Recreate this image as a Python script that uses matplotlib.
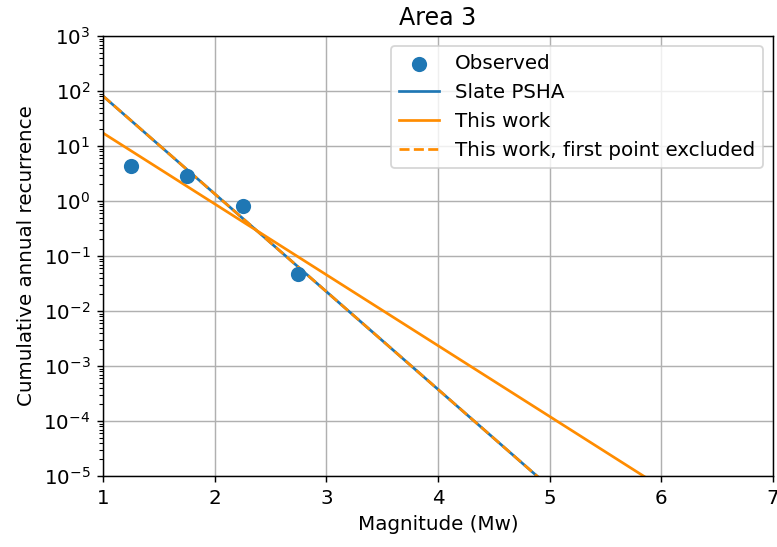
import matplotlib
matplotlib.use("Agg")
import matplotlib.pyplot as plt
import numpy as np

# observed cumulative annual rates
obs_mag = [1.25, 1.75, 2.25, 2.75]
obs_rate = [4.3, 2.85, 0.81, 0.047]

# fitted recurrence lines (values at the ends of the magnitude range)
line_mag = [1.0, 7.0]
slate_rate = [81.0, 1.74e-9]
this_work_rate = [17.2, 3.2e-7]
this_work_excl_rate = [81.0, 1.74e-9]

plt.rcParams["font.size"] = 11

DPI = 130
fig = plt.figure(figsize=(777 / DPI, 547 / DPI), dpi=DPI)
ax = fig.add_axes([0.1326, 0.1298, 0.8623, 0.8044])

ax.scatter(obs_mag, obs_rate, s=55, color="tab:blue", label="Observed", zorder=3)
ax.plot(line_mag, slate_rate, color="tab:blue", label="Slate PSHA")
ax.plot(line_mag, this_work_rate, color="darkorange", label="This work")
ax.plot(line_mag, this_work_excl_rate, "--", color="darkorange",
        label="This work, first point excluded")

ax.set_yscale("log")
ax.set_xlim(1, 7)
ax.set_ylim(1e-5, 1e3)
ax.grid(True)
ax.set_xlabel("Magnitude (Mw)")
ax.set_ylabel("Cumulative annual recurrence")
ax.set_title("Area 3")
ax.legend(loc="upper right")

fig.savefig("out.png", dpi=DPI)
